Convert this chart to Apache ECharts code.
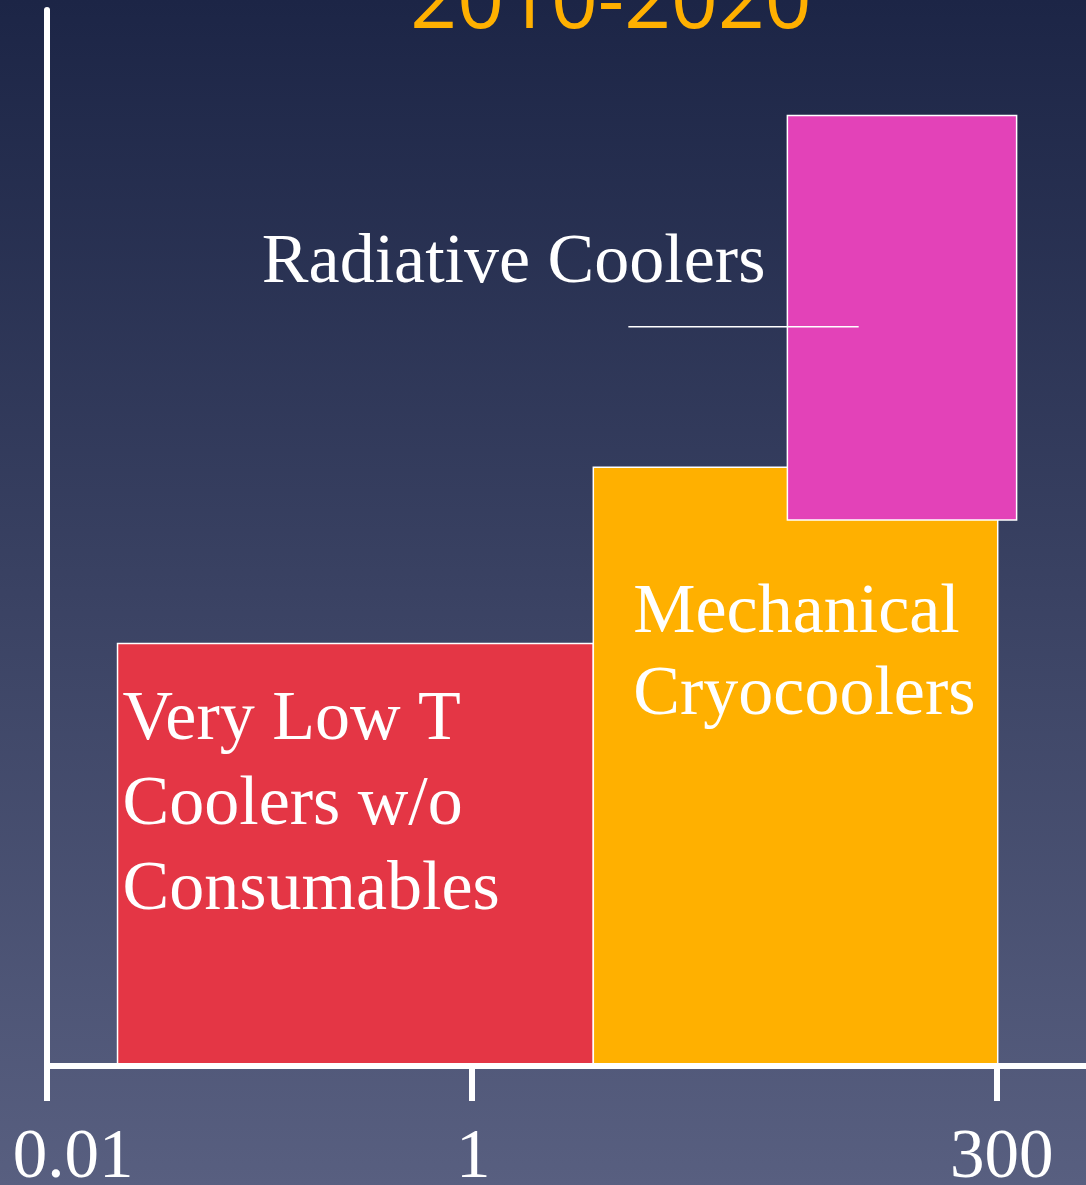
<!DOCTYPE html>
<html><head><meta charset="utf-8">
<script src="https://cdn.jsdelivr.net/npm/echarts@6/dist/echarts.min.js"></script>
<style>html,body{margin:0;padding:0;background:#1c2546}#c{width:1086px;height:1185px}</style>
</head><body><div id="c"></div>
<script>
// ---- data ----
const categories = ['Very Low T\nCoolers w/o\nConsumables', 'Mechanical\nCryocoolers', 'Radiative Coolers'];
const tempStart = [0.0215, 3.76, 30.9];
const tempEnd = [3.76, 303, 372];
const levelLow = [0, 0, 51.7];
const levelHigh = [40, 56.7, 90];
const tickValues = [0.01, 1, 300];
const tickLabels = ['0.01', '1', '300'];
const titleText = '2010-2020';
const leaderX = [5.5, 67];
const leaderY = [70, 70];

// ---- styles ----
const colors = ['#e43645', '#ffb000', '#e342b8'];
const labelStyle = [
  {dx: 5, dy: 35, align: 'left', lh: 85},
  {dx: 40, dy: 105, align: 'left', lh: 82},
  {dx: -22, dy: 113, align: 'right', lh: 70}
];
const serif = '"Liberation Serif", "Times New Roman", serif';

const chart = echarts.init(document.getElementById('c'));
const boxData = categories.map((c, i) => [tempStart[i], tempEnd[i], levelLow[i], levelHigh[i]]);

chart.setOption({
  backgroundColor: new echarts.graphic.LinearGradient(0, 0, 0, 1, [
    {offset: 0, color: '#1c2546'}, {offset: 1, color: '#585f80'}
  ]),
  animation: false,
  grid: {left: 47, right: 0, top: 10, bottom: 119, containLabel: false, outerBoundsMode: 'none'},
  graphic: [{
    type: 'text', x: 611, y: 46, z: 100,
    style: {text: titleText, fill: '#ffb000', font: '82px "Open Sans", sans-serif', align: 'center', verticalAlign: 'bottom'}
  }],
  xAxis: {
    type: 'log', logBase: 10, min: 0.01, max: 790, z: 10,
    axisLine: {show: true, lineStyle: {color: '#fff', width: 6}},
    axisTick: {show: true, customValues: tickValues, length: 35, lineStyle: {color: '#fff', width: 6}},
    splitLine: {show: false}, minorTick: {show: false},
    axisLabel: {
      show: true, customValues: tickValues, margin: 58, showMinLabel: true, showMaxLabel: true,
      formatter: function (v) {
        let k = 0, best = Infinity;
        tickValues.forEach((t, j) => { const d = Math.abs(Math.log10(t) - Math.log10(v)); if (d < best) { best = d; k = j; } });
        return '{t' + k + '|' + tickLabels[k] + '}';
      },
      rich: {
        t0: {fontFamily: serif, fontSize: 69, color: '#fff', padding: [0, 0, 0, 52]},
        t1: {fontFamily: serif, fontSize: 69, color: '#fff', padding: [0, 0, 0, 4]},
        t2: {fontFamily: serif, fontSize: 69, color: '#fff', padding: [0, 0, 0, 10]}
      }
    }
  },
  yAxis: {
    type: 'value', min: 0, max: 100, z: 10,
    axisLine: {show: true, lineStyle: {color: '#fff', width: 6}},
    axisTick: {show: false}, axisLabel: {show: false}, splitLine: {show: false}
  },
  series: [{
    type: 'custom', z: 2,
    encode: {x: [0, 1], y: [2, 3]},
    data: boxData,
    renderItem: function (params, api) {
      const i = params.dataIndex;
      const p0 = api.coord([api.value(0), api.value(3)]);
      const p1 = api.coord([api.value(1), api.value(2)]);
      const ls = labelStyle[i];
      return {
        type: 'group',
        children: [
          {type: 'rect', shape: {x: p0[0], y: p0[1], width: p1[0] - p0[0], height: p1[1] - p0[1]},
           style: {fill: colors[i], stroke: '#fff', lineWidth: 1.5}},
          {type: 'text', x: p0[0] + ls.dx, y: p0[1] + ls.dy,
           style: {text: categories[i], fill: '#fff', font: '70px ' + serif, align: ls.align, verticalAlign: 'top', lineHeight: ls.lh}}
        ]
      };
    }
  }, {
    type: 'line', z: 5, symbol: 'none', silent: true,
    data: leaderX.map((x, i) => [x, leaderY[i]]),
    lineStyle: {color: '#fff', width: 1.5}
  }]
});
</script>
</body></html>
